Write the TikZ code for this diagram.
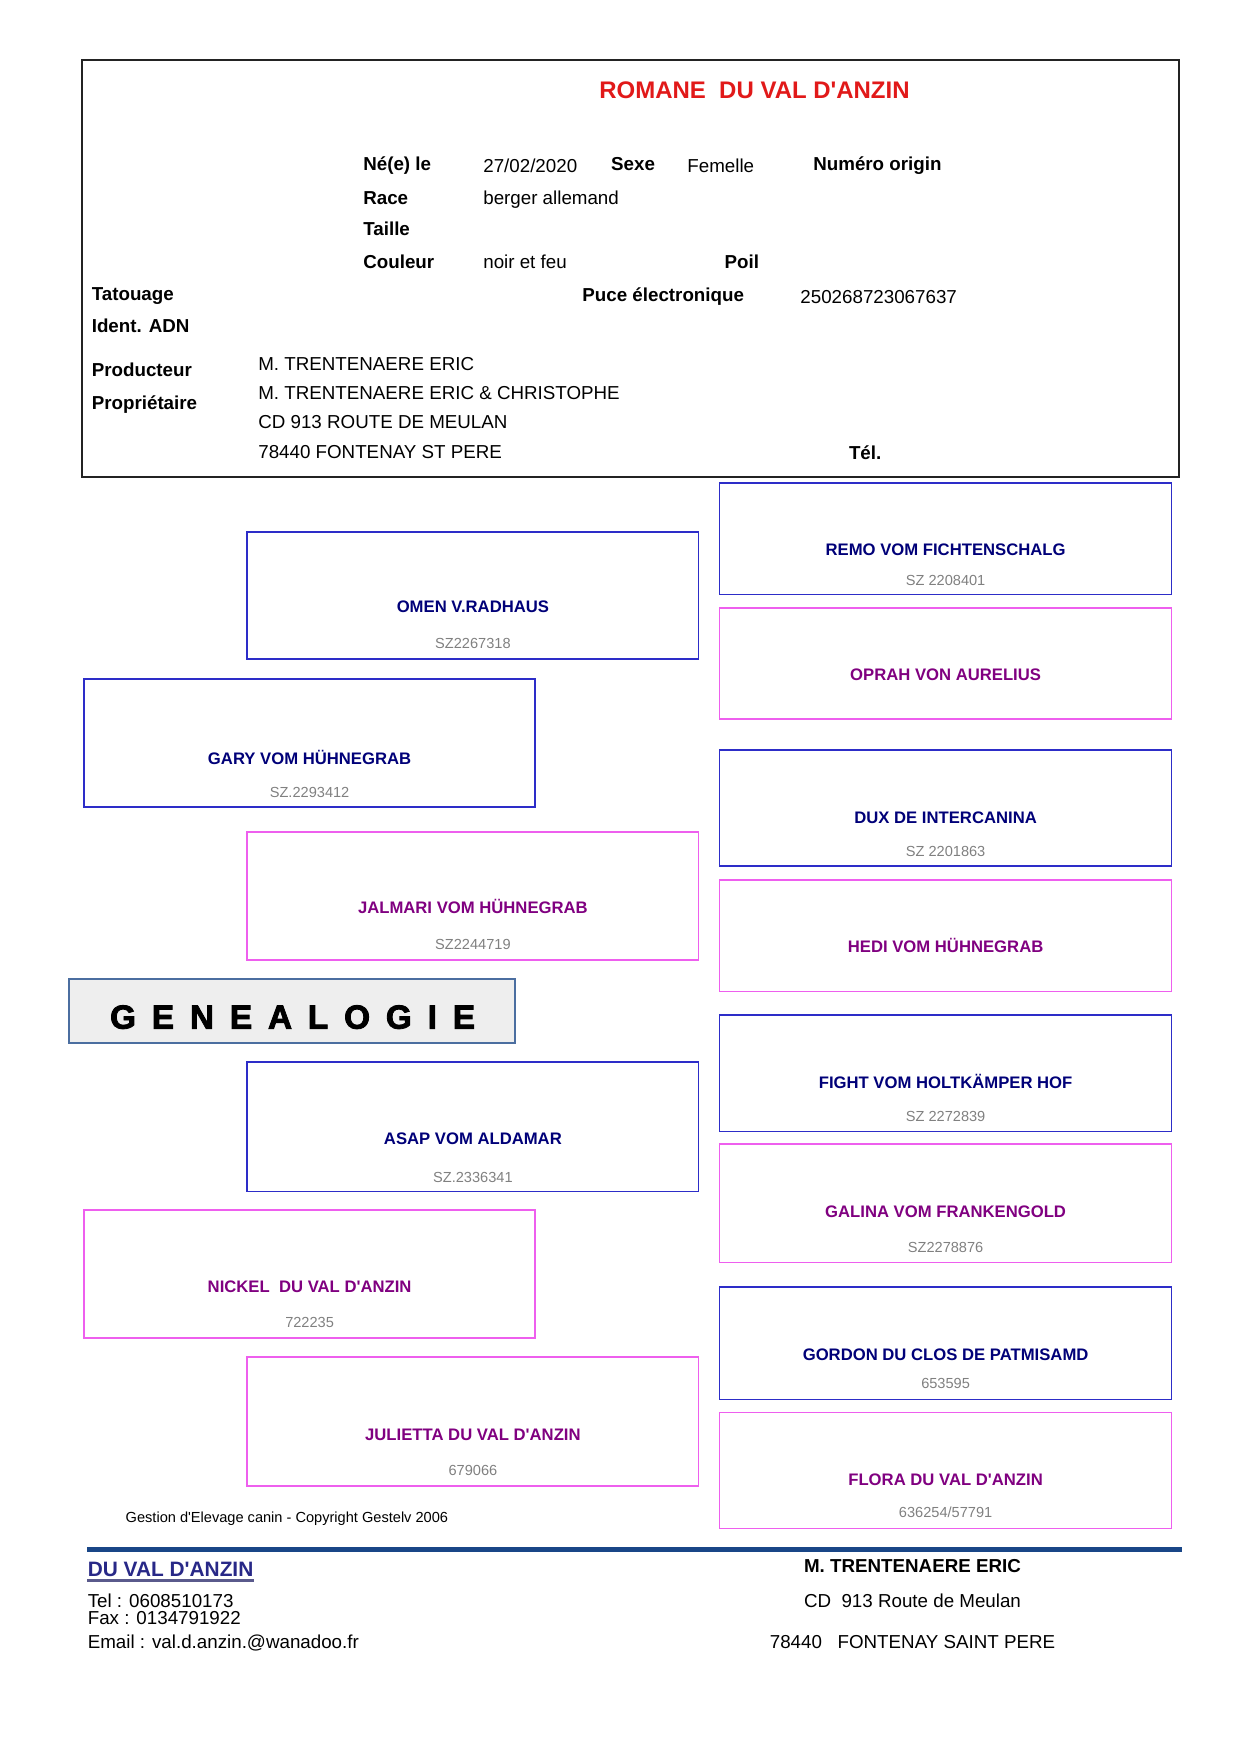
\documentclass[tikz,border=0pt]{standalone}
\usepackage{fontspec}
\setmainfont{Liberation Sans}[Ligatures=TeXOff]
\newfontfamily\spacedfont[LetterSpace=47.5,Ligatures=TeXOff,BoldFeatures={FakeBold=2.5}]{Liberation Sans}
\usepackage{tikz}
\usetikzlibrary{fit}
\definecolor{TitleRed}{RGB}{225,25,25}
\definecolor{FrameGray}{RGB}{35,35,35}
\definecolor{MaleLine}{RGB}{45,45,200}
\definecolor{FemaleLine}{RGB}{238,95,238}
\definecolor{MaleText}{RGB}{0,0,120}
\definecolor{FemaleText}{RGB}{128,0,128}
\definecolor{NumGray}{RGB}{128,128,128}
\definecolor{GenFill}{RGB}{238,238,238}
\definecolor{GenLine}{RGB}{75,110,160}
\definecolor{FootBlue}{RGB}{25,70,135}
\definecolor{KennelBlue}{RGB}{40,40,135}
\definecolor{KennelRule}{RGB}{90,90,140}
\tikzset{
  headframe/.style={draw=FrameGray,line width=1pt,inner sep=0pt},
  malebox/.style={draw=MaleLine,line width=0.8pt,inner sep=0pt},
  femalebox/.style={draw=FemaleLine,line width=0.8pt,inner sep=0pt},
  genbox/.style={draw=GenLine,fill=GenFill,line width=0.8pt,inner sep=0pt},
  dogtitle/.style={anchor=base,inner sep=0pt,text=TitleRed,font=\fontsize{11.5}{13}\selectfont\bfseries},
  fieldlbl/.style={anchor=base west,inner sep=0pt,font=\fontsize{9}{11}\selectfont\bfseries},
  fieldval/.style={anchor=base west,inner sep=0pt,font=\fontsize{9}{11}\selectfont},
  malename/.style={anchor=base,inner sep=0pt,text=MaleText,font=\fontsize{8}{10}\selectfont\bfseries},
  femalename/.style={anchor=base,inner sep=0pt,text=FemaleText,font=\fontsize{8}{10}\selectfont\bfseries},
  regnum/.style={anchor=base,inner sep=0pt,text=NumGray,font=\fontsize{7}{9}\selectfont},
  gentext/.style={anchor=base west,inner sep=0pt,font=\fontsize{16}{18}\spacedfont\bfseries},
  smallnote/.style={anchor=base west,inner sep=0pt,font=\fontsize{7}{9}\selectfont},
  kennel/.style={anchor=base west,inner sep=0pt,text=KennelBlue,font=\fontsize{10}{12}\selectfont\bfseries},
  footleft/.style={anchor=base west,inner sep=0pt,font=\fontsize{9}{11}\selectfont},
  footright/.style={anchor=base,inner sep=0pt,font=\fontsize{9}{11}\selectfont},
  footrule/.style={draw=FootBlue,line width=2pt},
  kennelrule/.style={draw=KennelRule,line width=1pt}
}

\begin{document}
\begin{tikzpicture}[x=0.4797pt,y=-0.4797pt]
\useasboundingbox (0,0) rectangle (1241,1754);

\node[headframe,fit={(82,60) (1179,477)}] (entete) {};
\node[dogtitle] (titre) at (754.5,98.3) {ROMANE\ \ DU VAL D'ANZIN};

\node[fieldlbl] (nele) at (362.9,170.7) {Né(e) le};
\node[fieldval] (date) at (482.9,172.5) {27/02/2020};
\node[fieldlbl] (sexe) at (610.7,170.7) {Sexe};
\node[fieldval] (femelle) at (687,172.5) {Femelle};
\node[fieldlbl] (numorig) at (812.9,170.7) {Numéro origin};
\node[fieldlbl] (race) at (362.9,204) {Race};
\node[fieldval] (racev) at (482.9,204) {berger allemand};
\node[fieldlbl] (taille) at (362.9,235.7) {Taille};
\node[fieldlbl] (couleur) at (362.9,268) {Couleur};
\node[fieldval] (couleurv) at (482.9,268.7) {noir et feu};
\node[fieldlbl] (poil) at (724.3,268) {Poil};
\node[fieldlbl] (tatouage) at (91.4,300.7) {Tatouage};
\node[fieldlbl] (puce) at (582,301.7) {Puce électronique};
\node[fieldval] (pucev) at (800,303.3) {250268723067637};
\node[fieldlbl] (adn) at (91.4,332.7) {Ident. ADN};
\node[fieldlbl] (producteur) at (91.4,376) {Producteur};
\node[fieldval] (producteurv) at (257.9,370.7) {M. TRENTENAERE ERIC};
\node[fieldlbl] (proprio) at (91.4,409.3) {Propriétaire};
\node[fieldval] (propriov) at (257.9,399.3) {M. TRENTENAERE ERIC \& CHRISTOPHE};
\node[fieldval] (adr1) at (257.9,428.7) {CD 913 ROUTE DE MEULAN};
\node[fieldval] (adr2) at (257.9,458.3) {78440 FONTENAY ST PERE};
\node[fieldlbl] (tel) at (848.6,459.3) {Tél.};

\node[malebox,fit={(247.3,532) (698.5,659)}] (omen) {};
\node[malename] (omenN) at (472.9,612.7) {OMEN V.RADHAUS};
\node[regnum] (omenR) at (472.9,648.5) {SZ2267318};
\node[malebox,fit={(84,679.3) (535.2,807.3)}] (gary) {};
\node[malename] (garyN) at (309.6,764.7) {GARY VOM HÜHNEGRAB};
\node[regnum] (garyR) at (309.6,797.9) {SZ.2293412};
\node[femalebox,fit={(247.3,831.7) (698.5,960)}] (jalmari) {};
\node[femalename] (jalmariN) at (472.9,913.7) {JALMARI VOM HÜHNEGRAB};
\node[regnum] (jalmariR) at (472.9,949.5) {SZ2244719};

\node[genbox,fit={(69.3,978.8) (515,1042.7)}] (genbox) {};
\node[gentext] (gentitle) at (109.7,1028.6) {GENEALOGIE};

\node[malebox,fit={(247.3,1062) (698.5,1191.5)}] (asap) {};
\node[malename] (asapN) at (472.9,1144) {ASAP VOM ALDAMAR};
\node[regnum] (asapR) at (472.9,1182.2) {SZ.2336341};
\node[femalebox,fit={(84,1210) (535.2,1338)}] (nickel) {};
\node[femalename] (nickelN) at (309.6,1292) {NICKEL\ \ DU VAL D'ANZIN};
\node[regnum] (nickelR) at (309.6,1327.8) {722235};
\node[femalebox,fit={(247.3,1357) (698.5,1486)}] (julietta) {};
\node[femalename] (juliettaN) at (472.9,1440.3) {JULIETTA DU VAL D'ANZIN};
\node[regnum] (juliettaR) at (472.9,1475.7) {679066};

\node[malebox,fit={(719.5,483.2) (1171.6,594.4)}] (remo) {};
\node[malename] (remoN) at (945.6,555) {REMO VOM FICHTENSCHALG};
\node[regnum] (remoR) at (945.6,585.2) {SZ 2208401};
\node[femalebox,fit={(719.5,607.7) (1171.6,719)}] (oprah) {};
\node[femalename] (oprahN) at (945.6,680.5) {OPRAH VON AURELIUS};
\node[malebox,fit={(719.5,750.3) (1171.6,866)}] (dux) {};
\node[malename] (duxN) at (945.6,823.7) {DUX DE INTERCANINA};
\node[regnum] (duxR) at (945.6,856.7) {SZ 2201863};
\node[femalebox,fit={(719.5,880) (1171.6,991.4)}] (hedi) {};
\node[femalename] (hediN) at (945.6,952) {HEDI VOM HÜHNEGRAB};
\node[malebox,fit={(719.5,1015) (1171.6,1131.4)}] (fight) {};
\node[malename] (fightN) at (945.6,1088.2) {FIGHT VOM HOLTKÄMPER HOF};
\node[regnum] (fightR) at (945.6,1121) {SZ 2272839};
\node[femalebox,fit={(719.5,1144) (1171.6,1262.6)}] (galina) {};
\node[femalename] (galinaN) at (945.6,1217.3) {GALINA VOM FRANKENGOLD};
\node[regnum] (galinaR) at (945.6,1252.4) {SZ2278876};
\node[malebox,fit={(719.5,1287) (1171.6,1399.5)}] (gordon) {};
\node[malename] (gordonN) at (945.6,1360.8) {GORDON DU CLOS DE PATMISAMD};
\node[regnum] (gordonR) at (945.6,1388.7) {653595};
\node[femalebox,fit={(719.5,1412.4) (1171.6,1528.4)}] (flora) {};
\node[femalename] (floraN) at (945.6,1485) {FLORA DU VAL D'ANZIN};
\node[regnum] (floraR) at (945.6,1517.9) {636254/57791};

\node[smallnote] (gestelv) at (125.3,1522.5) {Gestion d'Elevage canin - Copyright Gestelv 2006};

\coordinate (ruleL) at (87.4,1549.5);
\coordinate (ruleR) at (1181.7,1549.5);
\draw[footrule] (ruleL) -- (ruleR);

\node[kennel] (affixe) at (87.4,1576.7) {DU VAL D'ANZIN};
\draw[kennelrule] ([yshift=-1.8pt]affixe.base west) -- ([yshift=-1.8pt]affixe.base east);
\node[footleft] (teleph) at (87.4,1607.3) {Tel : 0608510173};
\node[footleft] (fax) at (87.4,1624) {Fax : 0134791922};
\node[footleft] (email) at (87.4,1648.3) {Email : val.d.anzin.@wanadoo.fr};
\node[footright,font=\fontsize{9}{11}\selectfont\bfseries] (eleveur) at (912.5,1572.7) {M. TRENTENAERE ERIC};
\node[footright] (rue) at (912.5,1607.3) {CD\ \ 913 Route de Meulan};
\node[footright] (ville) at (912.5,1648.3) {78440\ \ \ FONTENAY SAINT PERE};
\end{tikzpicture}
\end{document}
